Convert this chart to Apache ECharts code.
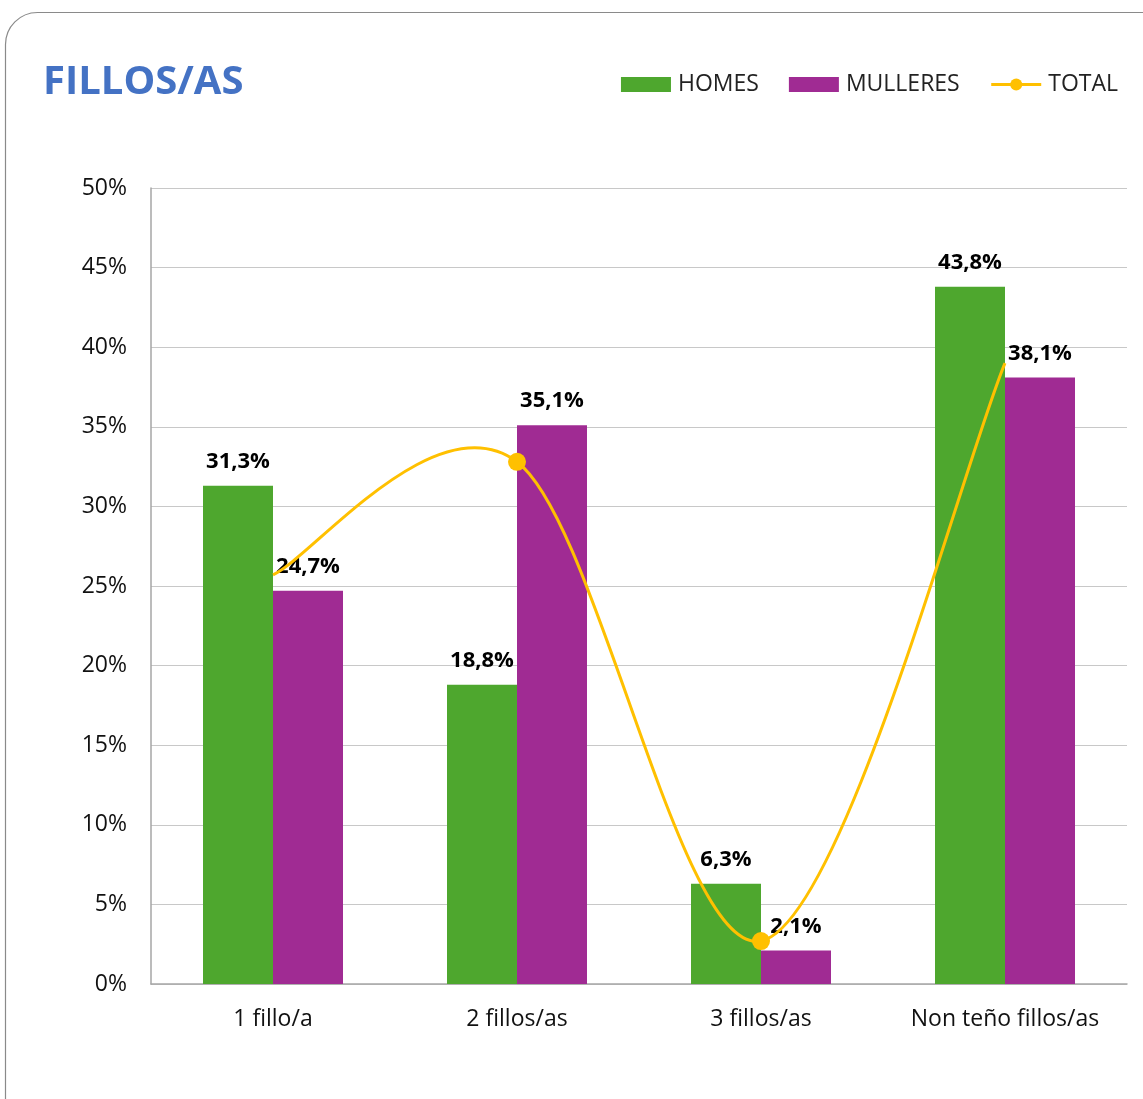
<!DOCTYPE html>
<html>
<head>
<meta charset="utf-8">
<script src="https://cdn.jsdelivr.net/npm/echarts@6/dist/echarts.min.js"></script>
<style>
  html, body { margin: 0; padding: 0; background: #fff; overflow: hidden; }
  #chart { width: 1143px; height: 1099px; }
</style>
</head>
<body>
<div id="chart"></div>
<script>
  // categorías e valores
  const categories = ['1 fillo/a', '2 fillos/as', '3 fillos/as', 'Non teño fillos/as'];
  const homes = [31.3, 18.8, 6.3, 43.8];
  const mulleres = [24.7, 35.1, 2.1, 38.1];
  const total = [25.7, 32.8, 2.7, 39.0];
  // só se ven marcadores nos puntos centrais
  const totalMarkers = [false, true, true, false];

  const font = '"Open Sans", "Noto Sans", sans-serif';
  const fmtPct = v => v.toFixed(1).replace('.', ',') + '%';
  const lineColor = '#FFC000';

  const chart = echarts.init(document.getElementById('chart'));

  const barLabel = {
    show: true,
    position: 'top',
    distance: 13,
    formatter: p => fmtPct(p.value),
    color: '#000',
    fontFamily: font,
    fontWeight: 'bold',
    fontSize: 22
  };

  // curva suave tipo Excel (Catmull-Rom), tramo a tramo, desde as coordenadas do eixo
  function renderTotalSegment(params, api) {
    const i = params.dataIndex;
    if (i >= total.length - 1) return null;
    const pts = total.map((v, k) => api.coord([k, v]));
    const p0 = pts[Math.max(i - 1, 0)];
    const p1 = pts[i];
    const p2 = pts[i + 1];
    const p3 = pts[Math.min(i + 2, pts.length - 1)];
    return {
      type: 'bezierCurve',
      shape: {
        x1: p1[0], y1: p1[1],
        cpx1: p1[0] + (p2[0] - p0[0]) / 6,
        cpy1: p1[1] + (p2[1] - p0[1]) / 6,
        cpx2: p2[0] - (p3[0] - p1[0]) / 6,
        cpy2: p2[1] - (p3[1] - p1[1]) / 6,
        x2: p2[0], y2: p2[1]
      },
      style: { fill: 'none', stroke: lineColor, lineWidth: 3 }
    };
  }

  chart.setOption({
    animation: false,
    backgroundColor: '#fff',
    graphic: [{
      type: 'rect',
      shape: { x: 5.5, y: 12.5, width: 1180, height: 1130, r: 32 },
      style: { fill: 'none', stroke: '#8a8a8a', lineWidth: 1.2 },
      z: -1
    }],
    title: {
      text: 'FILLOS/AS',
      left: 38,
      top: 58,
      textStyle: { color: '#4472C4', fontFamily: font, fontWeight: 'bold', fontSize: 40 }
    },
    legend: {
      right: 20,
      top: 68,
      itemWidth: 50,
      itemHeight: 15,
      itemGap: 30,
      lineStyle: { color: lineColor, width: 3, opacity: 1 },
      textStyle: { color: '#222', fontFamily: font, fontSize: 23, padding: [0, 0, 0, 2] },
      data: [
        { name: 'HOMES', icon: 'rect' },
        { name: 'MULLERES', icon: 'rect' },
        { name: 'TOTAL' }
      ]
    },
    grid: { left: 151, right: 16, top: 188, bottom: 115 },
    xAxis: {
      type: 'category',
      data: categories,
      axisLine: { lineStyle: { color: '#a6a6a6', width: 1.5 } },
      axisTick: { show: false },
      axisLabel: { interval: 0, color: '#111', fontFamily: font, fontSize: 23, margin: 24 }
    },
    yAxis: {
      type: 'value',
      min: 0,
      max: 50,
      interval: 5,
      axisLine: { show: true, lineStyle: { color: '#a6a6a6', width: 1.5 } },
      axisTick: { show: false },
      splitLine: { lineStyle: { color: '#c8c8c8', width: 1.2 } },
      axisLabel: { color: '#111', fontFamily: font, fontSize: 23, margin: 24, formatter: '{value}%' }
    },
    series: [
      {
        name: 'HOMES',
        type: 'bar',
        data: homes,
        barWidth: 70,
        barGap: '0%',
        itemStyle: { color: '#4EA72E' },
        label: barLabel
      },
      {
        name: 'MULLERES',
        type: 'bar',
        data: mulleres,
        barWidth: 70,
        barGap: '0%',
        itemStyle: { color: '#A02B93' },
        label: barLabel
      },
      {
        // marcadores e icona da lenda; a liña visible é a serie custom
        name: 'TOTAL',
        type: 'line',
        data: total.map((v, i) => ({
          value: v,
          symbol: totalMarkers[i] ? 'circle' : 'none'
        })),
        symbol: 'circle',
        symbolSize: 18,
        lineStyle: { color: lineColor, width: 3, opacity: 0 },
        itemStyle: { color: lineColor },
        z: 6
      },
      {
        name: 'TOTAL',
        type: 'custom',
        data: total.map((v, i) => [i, v]),
        encode: { x: 0, y: 1 },
        renderItem: renderTotalSegment,
        silent: true,
        z: 5
      }
    ]
  });
</script>
</body>
</html>
